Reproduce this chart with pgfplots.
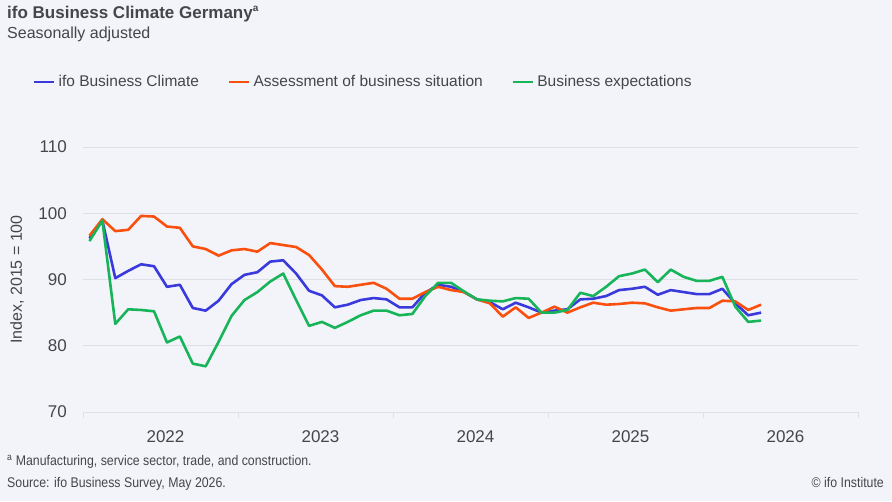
\documentclass[border=0pt]{standalone}
\usepackage{fontspec}
\setmainfont{Liberation Sans}
\usepackage{pgfplots}
\pgfplotsset{compat=1.18}
\usepackage{pgfplotstable}
\definecolor{bg}{HTML}{F3F4F9}
\definecolor{txt}{HTML}{44464C}
\definecolor{gridc}{HTML}{DFE0E6}
\definecolor{cblue}{HTML}{3A3ADC}
\definecolor{corange}{HTML}{FA500F}
\definecolor{cgreen}{HTML}{17B45A}
\pgfplotstableread{
x blue orange green
0.5 96.2 96.6 95.8
1.5 98.9 99.1 98.9
2.5 90.2 97.3 83.3
3.5 91.3 97.5 85.5
4.5 92.3 99.6 85.4
5.5 92.0 99.5 85.2
6.5 88.9 98.0 80.5
7.5 89.2 97.8 81.4
8.5 85.7 95.0 77.3
9.5 85.3 94.6 76.9
10.5 86.8 93.6 80.6
11.5 89.3 94.4 84.5
12.5 90.7 94.6 86.9
13.5 91.1 94.2 88.1
14.5 92.7 95.5 89.7
15.5 92.9 95.2 90.9
16.5 90.9 94.9 86.9
17.5 88.3 93.7 83.0
18.5 87.6 91.5 83.6
19.5 85.8 89.0 82.7
20.5 86.2 88.9 83.6
21.5 86.9 89.2 84.6
22.5 87.2 89.5 85.3
23.5 87.0 88.6 85.3
24.5 85.8 87.1 84.6
25.5 85.8 87.1 84.8
26.5 88.0 88.1 87.5
27.5 89.2 88.9 89.5
28.5 88.9 88.4 89.5
29.5 88.1 88.1 88.2
30.5 87.0 87.0 87.0
31.5 86.6 86.4 86.8
32.5 85.5 84.4 86.7
33.5 86.5 85.8 87.2
34.5 85.8 84.2 87.1
35.5 85.0 85.0 85.0
36.5 85.3 85.9 85.0
37.5 85.5 85.0 85.4
38.5 87.0 85.8 88.0
39.5 87.1 86.5 87.5
40.5 87.5 86.2 88.9
41.5 88.4 86.3 90.5
42.5 88.6 86.5 90.9
43.5 88.9 86.4 91.5
44.5 87.7 85.8 89.6
45.5 88.4 85.3 91.5
46.5 88.1 85.5 90.4
47.5 87.8 85.7 89.8
48.5 87.8 85.7 89.8
49.5 88.6 86.8 90.4
50.5 86.4 86.7 85.9
51.5 84.6 85.4 83.6
52.5 85.0 86.2 83.8
}\datatable
\begin{document}
\begin{tikzpicture}[x=1pt,y=1pt]
\useasboundingbox (0,0) rectangle (892,501);
\fill[bg] (0,0) rectangle (892,501);
\begin{axis}[
  at={(83pt,89pt)}, anchor=south west,
  scale only axis, width=775pt, height=265pt,
  xmin=0, xmax=60, ymin=70, ymax=110,
  xtick={0,12,24,36,48,60},
  xticklabels={2022,2023,2024,2025,2026},
  x tick label as interval,
  ytick={70,80,90,100,110},
  xtick pos=bottom, ytick pos=left,
  tick align=outside, major tick length=6pt,
  xtick style={draw=gridc, line width=0.8pt},
  ytick style={draw=none},
  axis line style={draw=none},
  ymajorgrids, grid style={draw=gridc, line width=1pt},
  /pgf/number format/assume math mode=true,
  /pgf/number format/1000 sep={},
  tick label style={font=\fontsize{17}{20}\selectfont, text=txt},
  yticklabel style={inner sep=0pt, xshift=-10pt},
  xticklabel style={inner sep=0pt, yshift=-12pt, xshift=5pt},
  ylabel={Index, 2015 = 100},
  ylabel style={at={(axis description cs:0,0.5)}, anchor=center, yshift=66pt, font=\fontsize{16}{19}\selectfont, text=txt},
  legend columns=3,
  legend style={at={(axis description cs:0,1)}, anchor=west, xshift=-50pt, yshift=65pt,
    draw=none, fill=none, inner sep=0pt, outer sep=0pt,
    font=\fontsize{15.5}{19}\selectfont, text=txt,
    nodes={inner sep=0pt},
    /tikz/every odd column/.append style={column sep=3pt},
    /tikz/every even column/.append style={column sep=29pt}},
  legend image code/.code={\draw[#1] (0pt,0pt) -- (20pt,0pt);},
  every axis plot/.append style={line width=2.6pt, line join=round},
]
\addplot[cblue] table[x=x,y=blue]{\datatable};
\addlegendentry{ifo Business Climate}
\addplot[corange] table[x=x,y=orange]{\datatable};
\addlegendentry{Assessment of business situation}
\addplot[cgreen] table[x=x,y=green]{\datatable};
\addlegendentry{Business expectations}
\end{axis}
\node[anchor=base west, inner sep=0pt, text=txt, font=\fontsize{17}{20}\selectfont\bfseries] at (7,482) {ifo Business Climate Germany\raisebox{0.45em}{\fontsize{10}{10}\selectfont a}};
\node[anchor=base west, inner sep=0pt, text=txt, font=\fontsize{16}{19}\selectfont] at (7,462) {Seasonally adjusted};
\node[anchor=base west, inner sep=0pt, text=txt, font=\fontsize{14}{16}\selectfont] at (7,35) {\scalebox{0.88}[1]{\textsuperscript{a} Manufacturing, service sector, trade, and construction.}};
\node[anchor=base west, inner sep=0pt, text=txt, font=\fontsize{14}{16}\selectfont] at (7,14) {\scalebox{0.88}[1]{Source: ifo Business Survey, May 2026.}};
\node[anchor=base east, inner sep=0pt, text=txt, font=\fontsize{14}{16}\selectfont] at (884,14) {\scalebox{0.88}[1]{\textcopyright{} ifo Institute}};
\end{tikzpicture}
\end{document}
